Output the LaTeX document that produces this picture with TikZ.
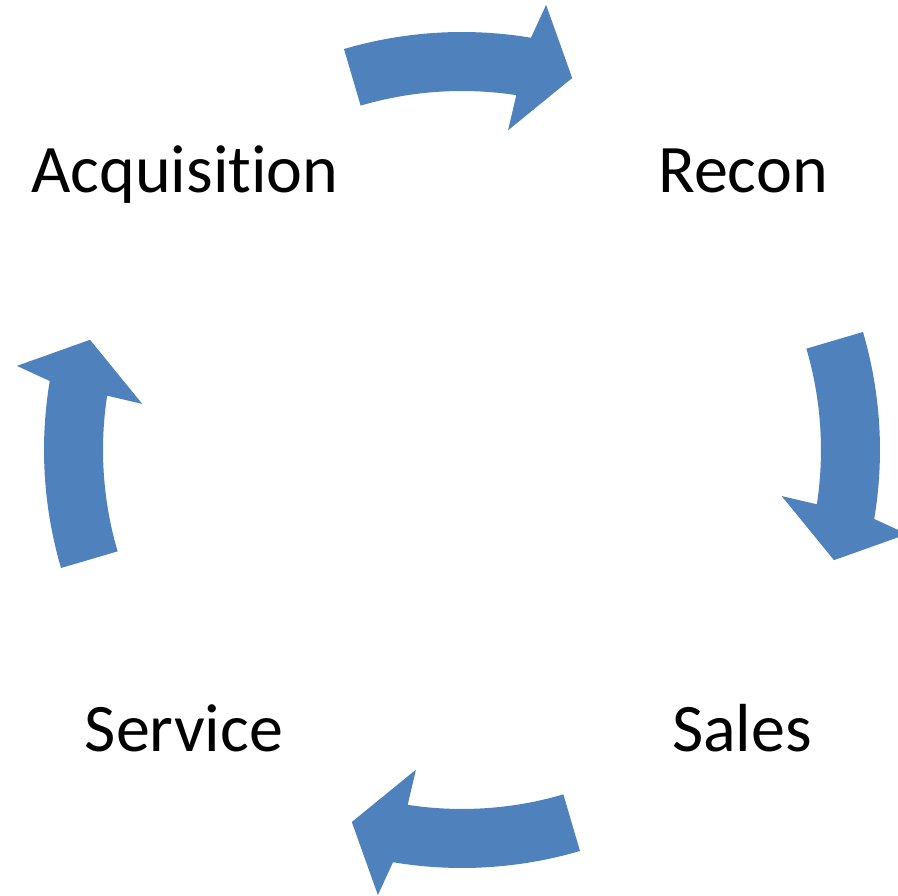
\documentclass[tikz,border=0pt]{standalone}
\usepackage{fontspec}
\setmainfont{Carlito}[Ligatures=NoCommon]
\definecolor{arrowblue}{HTML}{4F81BD}

\begin{document}
\begin{tikzpicture}[x=1pt, y=1pt, font=\fontsize{68}{76}\selectfont,
	stage/.style = { anchor=base, inner sep=0pt },
	cyclearrow/.style = { fill=arrowblue, draw=none } ]

  \useasboundingbox (-462,-446) rectangle (436,450);

  \node [name=acquisition, stage] at (-277,257) { Acquisition };
  \node [name=recon, stage] at (281,257) { Recon };
  \node [name=sales, stage] at (280,-302) { Sales };
  \node [name=service, stage] at (-278,-302) { Service };

  % one curved arrow, turned a quarter round for each step
  \foreach \r in {0,-90,-180,-270}
    \fill [cyclearrow, rotate=\r] (106.4:418)
	arc [start angle=106.4, end angle=80.5, radius=418]
	-- (79.3:453) -- (73.5:388) -- (81.8:323) -- (81.3:359)
	arc [start angle=81.3, end angle=106.4, radius=359] -- cycle;
\end{tikzpicture}
\end{document}
